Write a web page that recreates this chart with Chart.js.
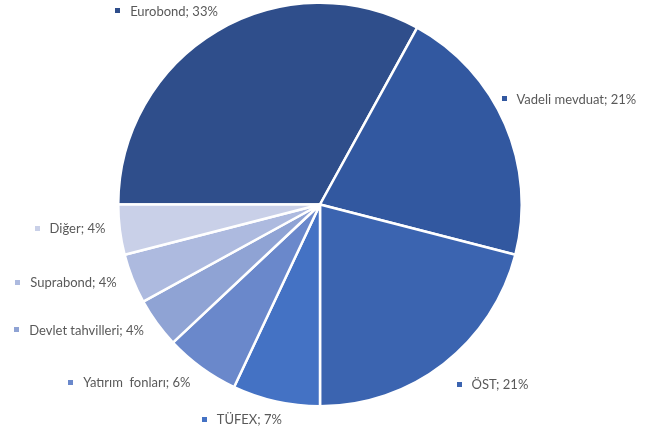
<!DOCTYPE html>
<html>
<head>
<meta charset="utf-8">
<script src="https://cdn.jsdelivr.net/npm/chart.js@4.4.1/dist/chart.umd.min.js"></script>
<style>
  html, body { margin: 0; padding: 0; background: #ffffff; }
  #wrap { width: 662px; height: 436px; }
</style>
</head>
<body>
<div id="wrap"><canvas id="c" width="662" height="436"></canvas></div>
<script>
// Portfolio breakdown (%)
const categories = ['Eurobond', 'Vadeli mevduat', 'ÖST', 'TÜFEX', 'Yatırım  fonları', 'Devlet tahvilleri', 'Suprabond', 'Diğer'];
const shares = [33, 21, 21, 7, 6, 4, 4, 4];

// Slice colours (monochrome blue palette)
const sliceColors = ['#2F4E8B', '#3258A0', '#3B64B0', '#4472C4', '#6A88CB', '#8FA3D4', '#ADBADF', '#C9D0E8'];

// Label placement around the pie: angle shift (deg) from slice middle, distance as radius multiple
const labelAngleShift = [-7.8, 0.4, -6.0, 7.4, 11.0, 8.5, 4.5, 1.7];
const labelRadius = [1.225, 1.34, 1.235, 1.133, 1.292, 1.346, 1.317, 1.245];

const outsideLabels = {
  id: 'outsideLabels',
  afterDatasetsDraw(chart) {
    const ctx = chart.ctx;
    const meta = chart.getDatasetMeta(0);
    ctx.save();
    ctx.font = '13px Lato, "Open Sans", sans-serif';
    ctx.textBaseline = 'middle';
    ctx.textAlign = 'left';
    meta.data.forEach((arc, i) => {
      const p = arc.getProps(['x', 'y', 'startAngle', 'endAngle', 'outerRadius'], true);
      const mid = (p.startAngle + p.endAngle) / 2 + labelAngleShift[i] * Math.PI / 180;
      const r = p.outerRadius * labelRadius[i];
      const cx = p.x + Math.cos(mid) * r;
      const cy = p.y + Math.sin(mid) * r;
      const text = categories[i] + '; ' + shares[i] + '%';
      const mark = 5, gap = 10;
      const w = mark + gap + ctx.measureText(text).width;
      const x0 = cx - w / 2;
      ctx.fillStyle = sliceColors[i];
      ctx.fillRect(Math.round(x0), Math.round(cy - mark / 2), mark, mark);
      ctx.fillStyle = '#595959';
      ctx.fillText(text, x0 + mark + gap, cy + 0.5);
    });
    ctx.restore();
  }
};

new Chart(document.getElementById('c'), {
  type: 'pie',
  data: {
    labels: categories,
    datasets: [{
      data: shares,
      backgroundColor: sliceColors,
      borderColor: '#ffffff',
      borderWidth: 2.5,
      hoverOffset: 0
    }]
  },
  options: {
    responsive: false,
    animation: false,
    rotation: -90,
    layout: { padding: { left: 117, right: 139, top: 1, bottom: 28 } },
    plugins: {
      legend: { display: false },
      tooltip: { enabled: false }
    }
  },
  plugins: [outsideLabels]
});
</script>
</body>
</html>
